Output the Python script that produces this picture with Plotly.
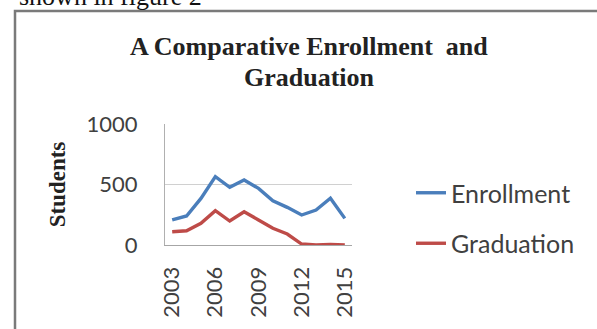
import plotly.graph_objects as go

years = [2003, 2004, 2005, 2006, 2007, 2008, 2009, 2010, 2011, 2012, 2013, 2014, 2015]
enrollment = [207, 240, 385, 565, 477, 537, 468, 366, 311, 248, 289, 386, 220]
graduation = [110, 118, 179, 284, 198, 275, 207, 138, 91, 8, 0, 5, 0]
x_tick_labels = ["2003", "2006", "2009", "2012", "2015"]
x_tick_vals = [2003, 2006, 2009, 2012, 2015]
y_tick_vals = [0, 500, 1000]
title_lines = ["A Comparative Enrollment  and", "Graduation"]

W, H = 597, 329

def px_x(p):
    return p / W

def px_y(p):
    return 1 - p / H

fig = go.Figure()
fig.add_trace(go.Scatter(x=years, y=enrollment, mode="lines", name="Enrollment",
                         line=dict(color="#4A7EBB", width=3.4), legendgroup="a"))
fig.add_trace(go.Scatter(x=years, y=graduation, mode="lines", name="Graduation",
                         line=dict(color="#BE4B48", width=3.4), legendgroup="b"))

fig.update_layout(
    width=W, height=H,
    margin=dict(l=0, r=0, t=0, b=0, pad=0, autoexpand=False),
    paper_bgcolor="white", plot_bgcolor="white",
    showlegend=True,
    legend=dict(x=px_x(411), y=px_y(170), xanchor="left", yanchor="top",
                font=dict(family="Lato", size=25, color="#404040"),
                tracegroupgap=15, bgcolor="rgba(0,0,0,0)"),
    xaxis=dict(domain=[px_x(165), px_x(352)], range=[2002.5, 2015.5],
               tickvals=x_tick_vals, ticktext=x_tick_labels, tickangle=-90,
               tickfont=dict(family="Lato", size=22, color="#404040"),
               showgrid=False, showline=True, linecolor="#a6a6a6", linewidth=1,
               ticks="", ticklabelstandoff=12, zeroline=False, automargin=False),
    yaxis=dict(domain=[px_y(245), px_y(124)], range=[0, 1000],
               tickvals=y_tick_vals,
               tickfont=dict(family="Lato", size=22, color="#404040"),
               showgrid=True, gridcolor="#d0d0d0", gridwidth=1,
               showline=True, linecolor="#b0b0b0", linewidth=1,
               ticks="", ticklabelstandoff=22, zeroline=False, automargin=False,
               title=dict(text="<b>Students</b>", standoff=14,
                          font=dict(family="Liberation Serif", size=23, color="#222"))),
    font=dict(family="Lato"),
)

# chart title (two lines)
for txt, yc in zip(title_lines, [47, 77]):
    fig.add_annotation(x=px_x(309), y=px_y(yc), xref="paper", yref="paper",
                       text="<b>" + txt + "</b>",
                       showarrow=False, xanchor="center", yanchor="middle",
                       font=dict(family="Liberation Serif", size=26, color="#222"))

# document text above the chart (partly cut off at the top edge, as in the reference)
fig.add_annotation(x=px_x(17), y=px_y(-3), xref="paper", yref="paper",
                   text="shown in figure 2", showarrow=False,
                   xanchor="left", yanchor="middle",
                   font=dict(family="Liberation Serif", size=26, color="#111"))

# chart frame
fig.add_shape(type="rect", xref="paper", yref="paper",
              x0=px_x(15), x1=px_x(620), y0=px_y(350), y1=px_y(11),
              line=dict(color="#7a7a7a", width=2.5), layer="below")

fig.write_html("out.html")
